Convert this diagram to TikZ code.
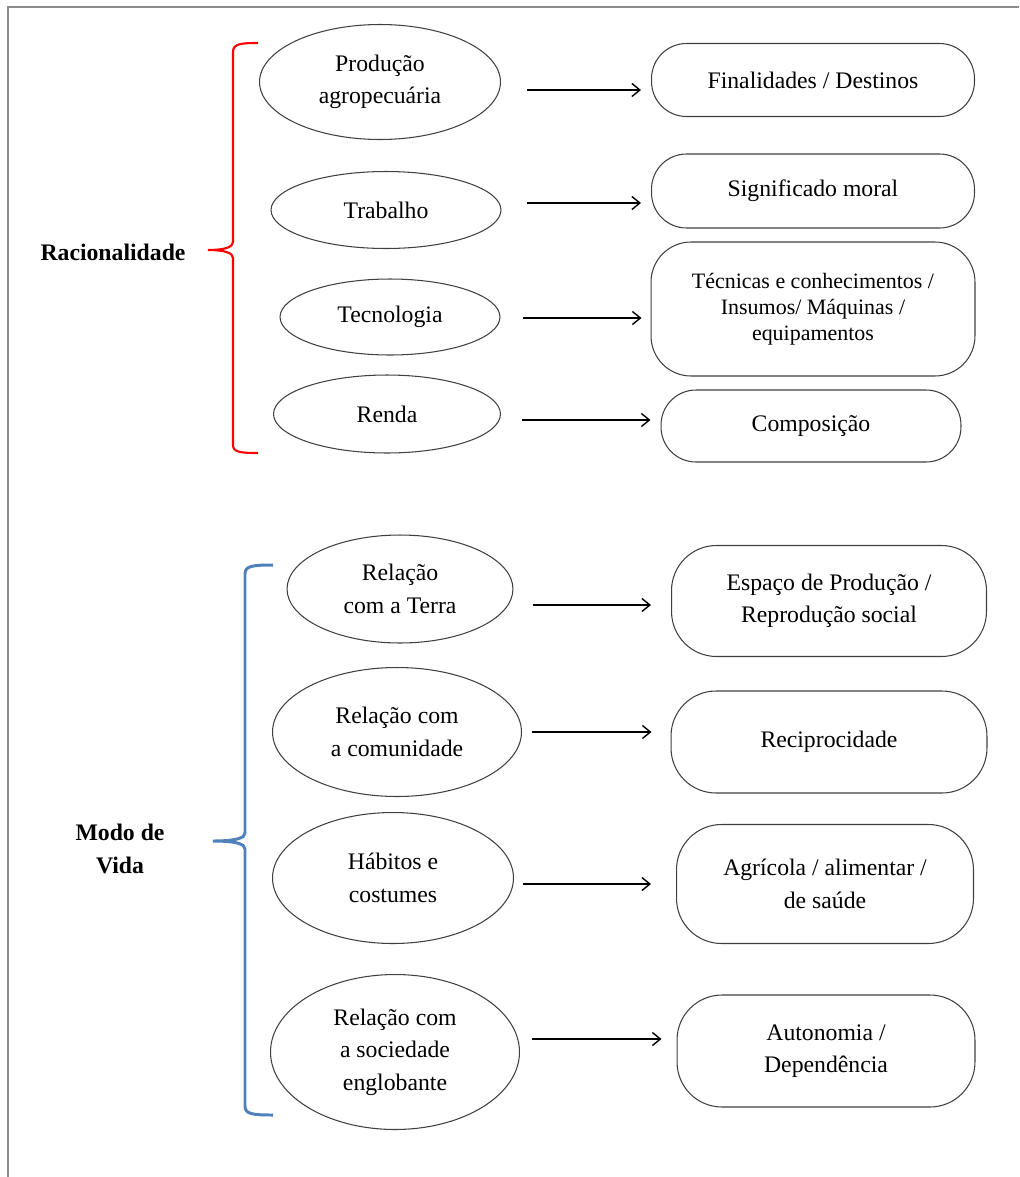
\documentclass[tikz,border=0pt]{standalone}
\usepackage{fontspec}
\setmainfont{Liberation Serif}
\usetikzlibrary{shapes.geometric,arrows.meta}
\definecolor{bracered}{RGB}{255,0,0}
\definecolor{braceblue}{RGB}{79,129,189}
\definecolor{framegray}{RGB}{140,140,140}

\begin{document}
\begin{tikzpicture}[x=0.02cm,y=-0.02cm,
  oval/.style={ellipse,draw=black!75,line width=0.6pt,inner sep=0pt,align=center,
    font=\fontsize{13.5}{18.5}\selectfont},
  pill/.style={rectangle,rounded corners=0.7cm,draw=black!75,line width=0.6pt,inner sep=0pt,
    align=center,font=\fontsize{13.5}{18.5}\selectfont},
  arr/.style={-{Straight Barb[length=1.6mm,width=2.6mm]},line width=0.8pt},
  side/.style={font=\fontsize{13.5}{19}\selectfont\bfseries,align=center}]

  \useasboundingbox (0,0) rectangle (1019,1177);
  \draw[framegray,line width=1.2pt] (8,1177) -- (8,7) -- (1019,7);

  % Racionalidade
  \node[side] (rac) at (113,252) {Racionalidade};
  \node[oval,minimum width=4.82cm,minimum height=2.3cm] (e1) at (380,82) {Produção\\agropecuária};
  \node[oval,minimum width=4.6cm,minimum height=1.54cm] (e2) at (386,210) {Trabalho};
  \node[oval,minimum width=4.4cm,minimum height=1.52cm] (e3) at (390,317) {Tecnologia};
  \node[oval,minimum width=4.54cm,minimum height=1.56cm] (e4) at (387,414) {Renda};

  \node[pill,minimum width=6.46cm,minimum height=1.46cm] (r1) at (813,80) {Finalidades / Destinos};
  \node[pill,minimum width=6.46cm,minimum height=1.48cm] (r2) at (813,191) {Significado moral};
  \node[pill,rounded corners=0.8cm,minimum width=6.48cm,minimum height=2.68cm,
    font=\fontsize{12.5}{14.7}\selectfont] (r3) at (813,309)
    {Técnicas e conhecimentos /\\Insumos/ Máquinas /\\equipamentos};
  \node[pill,minimum width=6.0cm,minimum height=1.44cm] (r4) at (811,426) {Composição};

  % Modo de Vida
  \node[side] (mod) at (120,849) {Modo de\\Vida};
  \node[oval,minimum width=4.52cm,minimum height=2.16cm] (e5) at (400,589) {Relação\\com a Terra};
  \node[oval,minimum width=4.98cm,minimum height=2.58cm] (e6) at (397,732) {Relação com\\a comunidade};
  \node[oval,minimum width=4.82cm,minimum height=2.62cm] (e7) at (393,878) {Hábitos e\\costumes};
  \node[oval,minimum width=4.98cm,minimum height=3.1cm] (e8) at (395,1052) {Relação com\\a sociedade\\englobante};

  \node[pill,rounded corners=0.9cm,minimum width=6.3cm,minimum height=2.22cm] (r5) at (829,601)
    {Espaço de Produção /\\Reprodução social};
  \node[pill,rounded corners=0.9cm,minimum width=6.32cm,minimum height=2.04cm] (r6) at (829,742) {Reciprocidade};
  \node[pill,rounded corners=0.9cm,minimum width=5.94cm,minimum height=2.38cm] (r7) at (825,884)
    {Agrícola / alimentar /\\de saúde};
  \node[pill,rounded corners=0.9cm,minimum width=5.96cm,minimum height=2.24cm] (r8) at (826,1051)
    {Autonomia /\\Dependência};

  % arrows
  \coordinate (a1) at (527,90);
  \coordinate (a2) at (527,203);
  \coordinate (a3) at (523,318);
  \coordinate (a4) at (522,420);
  \coordinate (a5) at (533,605);
  \coordinate (a6) at (532,732);
  \coordinate (a7) at (523,884);
  \coordinate (a8) at (532,1039);
  \draw[arr,shorten >=0.2cm] (a1) -- (a1 -| r1.west);
  \draw[arr,shorten >=0.2cm] (a2) -- (a2 -| r2.west);
  \draw[arr,shorten >=0.18cm] (a3) -- (a3 -| r3.west);
  \draw[arr,shorten >=0.2cm] (a4) -- (a4 -| r4.west);
  \draw[arr,shorten >=0.4cm] (a5) -- (a5 -| r5.west);
  \draw[arr,shorten >=0.38cm] (a6) -- (a6 -| r6.west);
  \draw[arr,shorten >=0.5cm] (a7) -- (a7 -| r7.west);
  \draw[arr,shorten >=0.3cm] (a8) -- (a8 -| r8.west);

  % braces
  \draw[bracered,line width=1.2pt] (258,43) .. controls (240,43) and (233,44) .. (233,52)
    -- (233,242) .. controls (233,247) and (225,250) .. (208,250)
    .. controls (225,250) and (233,253) .. (233,258)
    -- (233,445) .. controls (233,452) and (240,453) .. (258,453);
  \draw[braceblue,line width=1.7pt] (273,565) .. controls (252,565) and (245,566) .. (245,574)
    -- (245,833) .. controls (245,838) and (236,841) .. (213,841)
    .. controls (236,841) and (245,844) .. (245,849)
    -- (245,1106) .. controls (245,1114) and (252,1115) .. (273,1115);
\end{tikzpicture}
\end{document}
